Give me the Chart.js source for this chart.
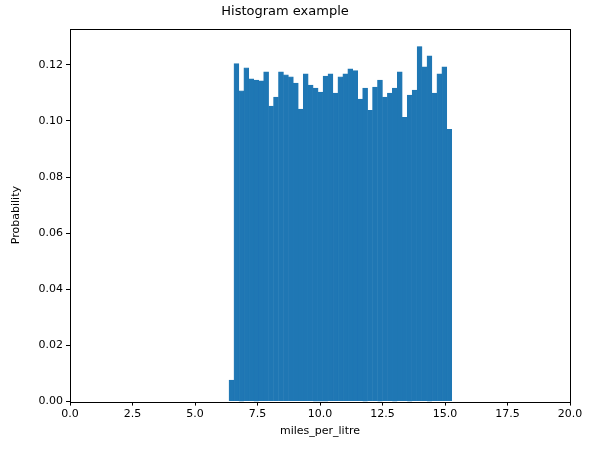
<!DOCTYPE html>
<html><head><script src="https://cdn.jsdelivr.net/npm/chart.js@4"></script>
<style>html,body{margin:0;padding:0;background:#fff}#c{display:block}</style></head>
<body><canvas id="c" width="591" height="453"></canvas>
<script>
const binStart = 6.36;
const binWidth = 0.198;
const probabilities = [0.0077,0.1204,0.1107,0.1189,0.1150,0.1146,0.1143,0.1175,0.1053,0.1085,0.1175,0.1164,0.1157,0.1135,0.1042,0.1168,0.1128,0.1117,0.1103,0.1160,0.1168,0.1099,0.1157,0.1168,0.1186,0.1179,0.1078,0.1117,0.1038,0.1121,0.1146,0.1085,0.1099,0.1117,0.1175,0.1013,0.1092,0.1110,0.1265,0.1193,0.1232,0.1099,0.1168,0.1193,0.0970];
const xTicks = [0,2.5,5,7.5,10,12.5,15,17.5,20];
const yTicks = [0,0.02,0.04,0.06,0.08,0.10,0.12];
const pts = probabilities.map((p,i)=>({x: binStart + binWidth*(i+0.5), y: p}));
const frame = {id:'frame', afterDatasetsDraw(ch){const a=ch.chartArea,c=ch.ctx;c.save();c.strokeStyle='#000';c.lineWidth=1;c.strokeRect(Math.round(a.left)+0.5,Math.round(a.top)+0.5,Math.round(a.right-a.left),Math.round(a.bottom-a.top));c.restore();}};
new Chart(document.getElementById('c'),{
 type:'bar',
 data:{datasets:[{data:pts,backgroundColor:'#1f77b4',borderColor:'#1f77b4',borderWidth:0.6,barPercentage:1.0,categoryPercentage:1.0}]},
 options:{responsive:false,animation:false,
  layout:{padding:{left:0,right:21,top:0,bottom:15}},
  plugins:{legend:{display:false},tooltip:{enabled:false},
   title:{display:true,text:'Histogram example',color:'#000',font:{family:'DejaVu Sans',size:13,weight:'normal'},padding:{top:4,bottom:9}}},
  scales:{
   x:{type:'linear',min:0,max:20,offset:false,
    afterBuildTicks(s){s.ticks=xTicks.map(v=>({value:v}));},
    ticks:{color:'#000',font:{family:'DejaVu Sans',size:11},maxRotation:0,callback:v=>v.toFixed(1),padding:2},
    grid:{display:true,offset:false,drawOnChartArea:false,drawTicks:true,tickLength:4,color:'#000'},border:{display:false},
    title:{display:true,text:'miles_per_litre',color:'#000',font:{family:'DejaVu Sans',size:11},padding:{top:2,bottom:0}}},
   y:{min:0,max:0.1329,
    afterBuildTicks(s){s.ticks=yTicks.map(v=>({value:v}));},
    afterFit(s){s.width=70;},
    ticks:{color:'#000',font:{family:'DejaVu Sans',size:11},callback:v=>v.toFixed(2),padding:3},
    grid:{display:true,offset:false,drawOnChartArea:false,drawTicks:true,tickLength:4,color:'#000'},border:{display:false},
    title:{display:true,text:'Probability',color:'#000',font:{family:'DejaVu Sans',size:11},padding:{top:10,bottom:4}}}
  }},
 plugins:[frame]
});
</script></body></html>
